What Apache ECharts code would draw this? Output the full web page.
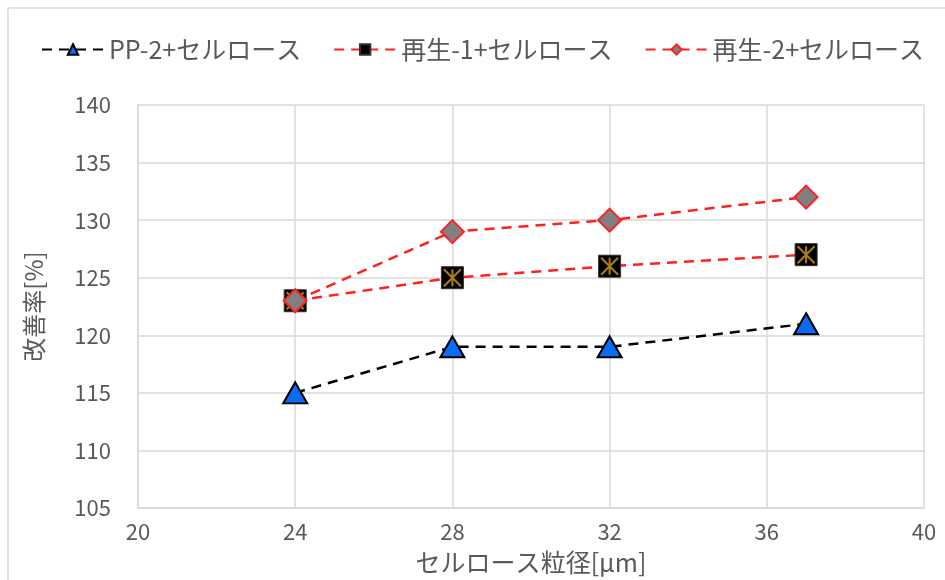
<!DOCTYPE html>
<html>
<head>
<meta charset="utf-8">
<script src="https://cdn.jsdelivr.net/npm/echarts@6/dist/echarts.min.js"></script>
<style>
  html, body { margin: 0; padding: 0; background: #fff; }
  #chart { width: 945px; height: 580px; }
</style>
</head>
<body>
<div id="chart"></div>
<script>
// Cellulose particle size [µm]
const particleSize = [24, 28, 32, 37];

// Improvement rate [%] per material
const pp2Values = [115, 119, 119, 121];
const recycled1Values = [123, 125, 126, 127];
const recycled2Values = [123, 129, 130, 132];

const seriesNames = ['PP-2+セルロース', '再生-1+セルロース', '再生-2+セルロース'];

const xTicks = { min: 20, max: 40, interval: 4 };
const yTicks = { min: 105, max: 140, interval: 5 };

const pairs = (xs, ys) => xs.map((x, i) => [x, ys[i]]);

const FONT = '"Noto Sans CJK JP", "Noto Sans", sans-serif';
const TEXT = '#595959';
const GRID = '#d9d9d9';
const starPath = 'path://M0,0L10,10M10,0L0,10M5,0L5,10';
const dash = [10, 7];

const chart = echarts.init(document.getElementById('chart'), null, { renderer: 'canvas' });

chart.setOption({
  animation: false,
  backgroundColor: '#fff',
  textStyle: { fontFamily: FONT },
  graphic: [{
    type: 'rect',
    shape: { x: 8, y: 8, width: 960, height: 600 },
    style: { fill: 'none', stroke: GRID, lineWidth: 1.5 },
    silent: true
  }],
  legend: {
    data: seriesNames,
    top: 32,
    left: 36,
    itemGap: 32,
    itemWidth: 62,
    itemHeight: 13,
    textStyle: { color: TEXT, fontSize: 25, fontFamily: FONT }
  },
  grid: { left: 138, right: 21, top: 105, bottom: 72, containLabel: false },
  xAxis: {
    type: 'value',
    min: xTicks.min, max: xTicks.max, interval: xTicks.interval,
    name: 'セルロース粒径[μm]',
    nameLocation: 'middle',
    nameGap: 42,
    nameTextStyle: { color: TEXT, fontSize: 25, fontFamily: FONT },
    axisLine: { show: true, lineStyle: { color: GRID, width: 1.5 } },
    axisTick: { show: false },
    axisLabel: { color: TEXT, fontSize: 22, margin: 13, fontFamily: FONT },
    splitLine: { show: true, lineStyle: { color: GRID, width: 1.5 } }
  },
  yAxis: {
    type: 'value',
    min: yTicks.min, max: yTicks.max, interval: yTicks.interval,
    name: '改善率[%]',
    nameLocation: 'middle',
    nameGap: 92,
    nameRotate: 90,
    nameTextStyle: { color: TEXT, fontSize: 24, fontFamily: FONT },
    axisLine: { show: true, lineStyle: { color: GRID, width: 1.5 } },
    axisTick: { show: false },
    axisLabel: { color: TEXT, fontSize: 22, margin: 27, fontFamily: FONT },
    splitLine: { show: true, lineStyle: { color: GRID, width: 1.5 } }
  },
  series: [
    {
      name: seriesNames[0],
      type: 'line',
      data: pairs(particleSize, pp2Values),
      symbol: 'triangle',
      symbolSize: [24, 21],
      lineStyle: { color: '#000', width: 2.5, type: dash },
      itemStyle: { color: '#0a6cf0', borderColor: '#000', borderWidth: 2 },
      z: 3
    },
    {
      name: seriesNames[1],
      type: 'line',
      data: pairs(particleSize, recycled1Values),
      symbol: 'rect',
      symbolSize: 22,
      lineStyle: { color: '#ff2020', width: 2.5, type: dash },
      itemStyle: { color: '#000', borderColor: '#333', borderWidth: 1 },
      z: 3
    },
    {
      // gold star strokes drawn over the black squares
      type: 'scatter',
      data: pairs(particleSize, recycled1Values),
      symbol: starPath,
      symbolSize: 17,
      silent: true,
      itemStyle: { color: 'none', borderColor: '#d4a017', borderWidth: 2 },
      z: 4
    },
    {
      name: seriesNames[2],
      type: 'line',
      data: pairs(particleSize, recycled2Values),
      symbol: 'diamond',
      symbolSize: 23,
      lineStyle: { color: '#ff2020', width: 2.5, type: dash },
      itemStyle: { color: '#808080', borderColor: '#ff2020', borderWidth: 2 },
      z: 5
    }
  ]
});
</script>
</body>
</html>
